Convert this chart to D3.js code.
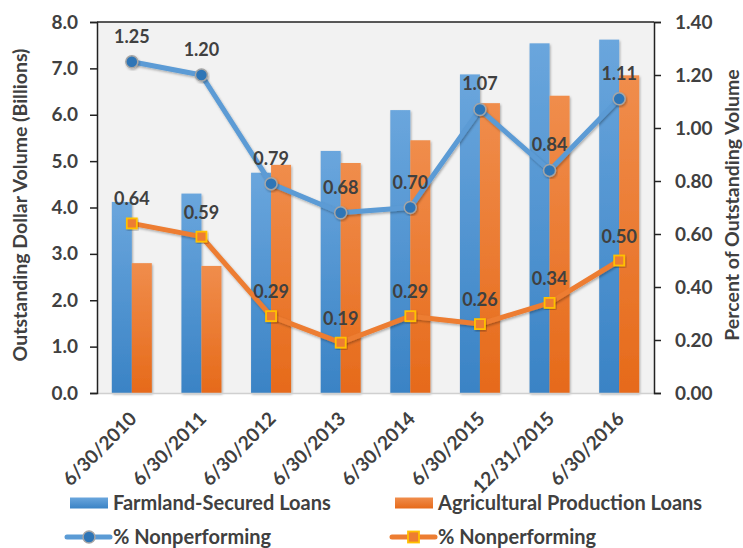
<!DOCTYPE html>
<html><head><meta charset="utf-8">
<script src="https://cdn.jsdelivr.net/npm/d3@7"></script>
<style>body{margin:0;background:#fff;} text{font-family:Lato, "Open Sans", sans-serif;}</style>
</head><body>
<svg id="c" width="743" height="548"></svg>
<script>
const categories = ["6/30/2010","6/30/2011","6/30/2012","6/30/2013","6/30/2014","6/30/2015","12/31/2015","6/30/2016"];
const farmland = [4.12, 4.30, 4.75, 5.22, 6.10, 6.87, 7.54, 7.62];
const agProduction = [2.80, 2.74, 4.92, 4.96, 5.45, 6.25, 6.41, 6.85];
const farmlandNPL = [1.25, 1.20, 0.79, 0.68, 0.70, 1.07, 0.84, 1.11];
const agNPL = [0.64, 0.59, 0.29, 0.19, 0.29, 0.26, 0.34, 0.50];
const leftTicks = [0,1,2,3,4,5,6,7,8];
const rightTicks = [0,0.2,0.4,0.6,0.8,1.0,1.2,1.4];

const svg = d3.select("#c");
const L = 97, R = 654, T = 22, B = 393;
const x = d3.scaleBand().domain(categories).range([L, R]);
const yL = d3.scaleLinear().domain([0, 8]).range([B, T]);
const yR = d3.scaleLinear().domain([0, 1.4]).range([B, T]);
const txt = "#404040";

const defs = svg.append("defs");
function grad(id, c1, c2){
  const g = defs.append("linearGradient").attr("id", id).attr("x1",0).attr("y1",0).attr("x2",0).attr("y2",1);
  g.append("stop").attr("offset","0%").attr("stop-color",c1);
  g.append("stop").attr("offset","100%").attr("stop-color",c2);
}
grad("gb", "#6aa6dd", "#3a83c5");
grad("go", "#f08d4c", "#e66a1a");
const f = defs.append("filter").attr("id","sh").attr("x","-20%").attr("y","-20%").attr("width","140%").attr("height","140%");
f.append("feDropShadow").attr("dx",1).attr("dy",1.5).attr("stdDeviation",1.2).attr("flood-color","#000").attr("flood-opacity",0.3);

svg.append("rect").attr("x", L).attr("y", T).attr("width", R-L).attr("height", B-T).attr("fill", "#f2f2f2");

const bw = 20;
const gBars = svg.append("g");
gBars.selectAll(".b1").data(categories).join("rect")
  .attr("x", d => x(d) + x.bandwidth()/2 - bw)
  .attr("y", (d,i) => yL(farmland[i]))
  .attr("width", bw).attr("height", (d,i) => B - yL(farmland[i]))
  .attr("fill", "url(#gb)").attr("filter","url(#sh)");
gBars.selectAll(".b2").data(categories).join("rect")
  .attr("x", d => x(d) + x.bandwidth()/2)
  .attr("y", (d,i) => yL(agProduction[i]))
  .attr("width", bw).attr("height", (d,i) => B - yL(agProduction[i]))
  .attr("fill", "url(#go)").attr("filter","url(#sh)");

// axes
svg.append("line").attr("x1",L).attr("x2",R).attr("y1",B+0.5).attr("y2",B+0.5).attr("stroke","#d0d0d0").attr("stroke-width",1.5);
svg.append("line").attr("x1",L).attr("x2",R).attr("y1",T).attr("y2",T).attr("stroke","#222").attr("stroke-width",1.5);
const axL = svg.append("g").attr("transform",`translate(${L},0)`)
  .call(d3.axisLeft(yL).tickValues(leftTicks).tickFormat(d3.format(".1f")).tickSize(7).tickPadding(12));
const axR = svg.append("g").attr("transform",`translate(${R},0)`)
  .call(d3.axisRight(yR).tickValues(rightTicks).tickFormat(d3.format(".2f")).tickSize(7).tickPadding(14));
[axL, axR].forEach(a => {
  a.select(".domain").attr("stroke","#222").attr("stroke-width",1.5);
  a.selectAll(".tick line").attr("stroke","#222").attr("stroke-width",1.5);
  a.selectAll("text").attr("font-size",19).attr("font-weight","bold").attr("fill",txt).attr("font-family","Lato, sans-serif");
});

// x labels
svg.append("g").selectAll("text").data(categories).join("text")
  .attr("transform", d => `translate(${x(d)+x.bandwidth()/2+6},${B+27}) rotate(-45)`)
  .attr("text-anchor","end")
  .attr("font-size",19).attr("font-weight","bold").attr("fill",txt)
  .text(d => d);

// lines
const cx = d => x(d) + x.bandwidth()/2;
const lineB = d3.line().x((d,i) => cx(categories[i])).y(d => yR(d));
svg.append("path").datum(farmlandNPL).attr("d", lineB).attr("fill","none")
  .attr("stroke","#5b9bd5").attr("stroke-width",5).attr("stroke-linejoin","round").attr("filter","url(#sh)");
svg.append("g").selectAll("circle").data(farmlandNPL).join("circle")
  .attr("cx",(d,i)=>cx(categories[i])).attr("cy",d=>yR(d)).attr("r",6)
  .attr("fill","#2e75b6").attr("stroke","#a5a5a5").attr("stroke-width",1.5).attr("filter","url(#sh)");
svg.append("path").datum(agNPL).attr("d", lineB).attr("fill","none")
  .attr("stroke","#ed7d31").attr("stroke-width",5).attr("stroke-linejoin","round").attr("filter","url(#sh)");
svg.append("g").selectAll("rect").data(agNPL).join("rect")
  .attr("x",(d,i)=>cx(categories[i])-5).attr("y",d=>yR(d)-5).attr("width",10).attr("height",10)
  .attr("fill","#ed7d31").attr("stroke","#ffc000").attr("stroke-width",1.8).attr("filter","url(#sh)");

// data labels
svg.append("g").selectAll("text").data(farmlandNPL).join("text")
  .attr("x",(d,i)=>cx(categories[i])).attr("y",d=>yR(d)-19)
  .attr("text-anchor","middle").attr("font-size",18).attr("font-weight","bold").attr("fill",txt)
  .text(d=>d.toFixed(2));
svg.append("g").selectAll("text").data(agNPL).join("text")
  .attr("x",(d,i)=>cx(categories[i])).attr("y",d=>yR(d)-18)
  .attr("text-anchor","middle").attr("font-size",18).attr("font-weight","bold").attr("fill",txt)
  .text(d=>d.toFixed(2));

// axis titles
svg.append("text").attr("transform",`translate(27,205) rotate(-90)`).attr("text-anchor","middle")
  .attr("font-size",19.5).attr("font-weight","bold").attr("fill",txt).text("Outstanding Dollar Volume (Billions)");
svg.append("text").attr("transform",`translate(739,205) rotate(-90)`).attr("text-anchor","middle")
  .attr("font-size",19.5).attr("font-weight","bold").attr("fill",txt).text("Percent of Outstanding Volume");

// legend
const lg = svg.append("g");
const items = [
  {t:"Farmland-Secured Loans", x:70, y:503, type:"bar", fill:"url(#gb)"},
  {t:"Agricultural Production Loans", x:395, y:503, type:"bar", fill:"url(#go)"},
  {t:"% Nonperforming", x:70, y:537, type:"lineB"},
  {t:"% Nonperforming", x:395, y:537, type:"lineO"}
];
items.forEach(it => {
  if (it.type === "bar") {
    lg.append("rect").attr("x",it.x).attr("y",it.y-5.5).attr("width",38).attr("height",11).attr("fill",it.fill);
  } else if (it.type === "lineB") {
    lg.append("line").attr("x1",it.x-3).attr("x2",it.x+40).attr("y1",it.y).attr("y2",it.y).attr("stroke","#5b9bd5").attr("stroke-width",5).attr("stroke-linecap","round");
    lg.append("circle").attr("cx",it.x+19).attr("cy",it.y).attr("r",6).attr("fill","#2e75b6").attr("stroke","#a5a5a5").attr("stroke-width",1.5);
  } else {
    lg.append("line").attr("x1",it.x-3).attr("x2",it.x+40).attr("y1",it.y).attr("y2",it.y).attr("stroke","#ed7d31").attr("stroke-width",5).attr("stroke-linecap","round");
    lg.append("rect").attr("x",it.x+13).attr("y",it.y-5.5).attr("width",11).attr("height",11).attr("fill","#ed7d31").attr("stroke","#ffc000").attr("stroke-width",1.8);
  }
  lg.append("text").attr("x",it.x+43).attr("y",it.y).attr("dy","0.36em")
    .attr("font-size",20).attr("font-weight","bold").attr("fill",txt).text(it.t);
});
</script>
</body></html>
